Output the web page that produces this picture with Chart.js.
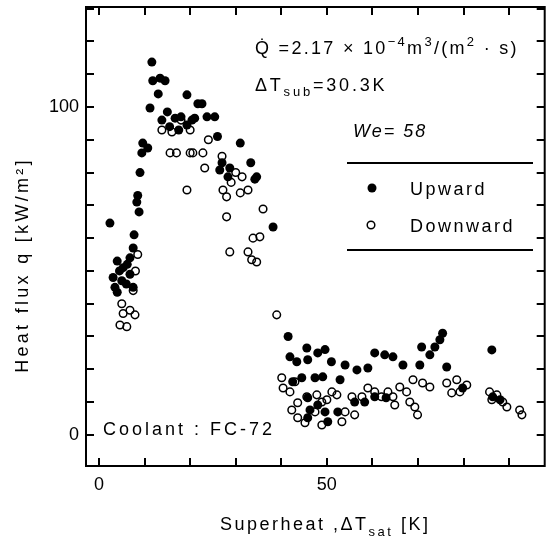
<!DOCTYPE html>
<html>
<head>
<meta charset="utf-8">
<script src="https://cdn.jsdelivr.net/npm/chart.js@4.4.1/dist/chart.umd.min.js"></script>
<style>
html,body{margin:0;padding:0;background:#fff;}
canvas{display:block;}
</style>
</head>
<body>
<canvas id="c" width="550" height="539"></canvas>
<script>
// ---- data ----
const upwardX = [2.4,4.0,6.8,5.3,3.1,5.0,3.5,6.8,7.5,7.5,7.7,8.3,8.8,9.0,4.5,6.0,4.0,6.2,8.5,
  9.4,9.6,10.7,11.2,11.6,11.8,13.4,14.5,13.0,15.0,13.8,16.7,19.3,20.4,21.7,22.6,21.0,23.7,25.4,19.3,26.0,31.0,33.3,27.0,28.7,28.3,34.6,26.5,34.2,38.2,17.5,18.0,15.5,
  41.5,45.6,49.6,41.9,43.4,45.8,48.0,51.0,54.0,56.6,59.0,60.5,62.7,44.5,47.4,49.1,52.9,45.8,48.0,49.6,52.4,56.1,58.3,60.5,45.8,50.2,
  64.5,66.7,70.8,70.4,72.6,73.7,74.8,75.4,76.3,86.2,79.8,86.4,88.0,42.5,46.3,63.0];
const upwardY = [64.6,53,54,51,48,47,45,49,45,57,61,71,68,80,50,46,43.5,52,73,
  86,89,87.5,99.7,113.7,108,108.8,108,104,98.5,96,96.6,103.7,96,101,101,96.6,97,97,94.5,91,89,83,83,81.4,78.7,78.7,80.8,78,63.4,93,97,94,
  30,26.5,26,23.8,22.3,22.9,25,22.3,21.3,19.8,20.4,25,24.4,17.4,17.4,17.7,16.8,11.3,9.1,7,7,10,10,11.6,5.2,4,
  23.8,21.3,26.8,21.3,24.4,26.8,29,31,20.7,25.9,14.3,11.6,10.7,16.2,7.6,11.3];

const downwardX = [7.5,5.0,5.3,6.8,6.1,4.6,7.9,8.0,8.5,
  13.8,16.0,15.6,17.0,20.0,20.0,22.8,20.6,27.0,23.2,31.4,19.3,27.2,31.0,32.7,28.0,36.0,35.3,33.8,28.7,32.7,33.5,34.6,28.0,39.0,18.0,24.0,29.0,30.0,
  40.1,40.4,41.9,43.0,43.6,42.3,45.2,47.4,51.1,52.2,54.0,56.1,55.5,59.0,60.5,62.0,63.4,57.7,48.9,53.3,48.9,43.6,50.0,45.6,47.8,
  66.0,68.9,71.0,72.6,67.5,64.5,64.9,68.2,69.3,69.9,76.3,78.5,80.7,77.4,79.2,85.7,87.3,86.2,88.6,89.5,92.3,92.8];
const downwardY = [44,40,37,38,33,33.5,36.6,50,55,
  93,92.4,86,86,93,86,86,86,85,81.4,78.7,74.7,74.7,73.8,74.7,72.6,68.9,60.4,60,55.8,55.8,53.4,52.7,66.5,36.6,96,90,77,80,
  17.4,14.3,13.1,16.2,9.8,7.6,3.7,7,13.1,12.2,7,6.1,11.6,14.3,13.1,11.6,13.1,11.6,10,4,3,5.2,10.7,11.6,12.2,
  14.6,16.8,15.8,14.6,13.1,11.6,9.1,10,8.5,6.1,15.8,16.8,15.2,12.8,13.1,13.1,12.2,10.7,10,8.5,7.6,6.1];

const xTickValues = [0,10,20,30,40,50,60,70,80,90];
const yTickValues = [0,10,20,30,40,50,60,70,80,90,100,110,120,130];
const xTickLabels = {0:'0',50:'50'};
const yTickLabels = {0:'0',100:'100'};
const seriesNames = ['Upward','Downward'];

const X_MIN = -2.85, X_MAX = 97.8, Y_MIN = -9.5, Y_MAX = 130.5;
const FONT = '"Liberation Sans", Arial, sans-serif';

function drawRich(ctx, parts, x, y, spacing) {
  let cx = x;
  for (const p of parts) {
    ctx.font = (p.italic ? 'italic ' : '') + (p.size || 18) + 'px ' + FONT;
    ctx.letterSpacing = (spacing === undefined ? 2.5 : spacing) + 'px';
    ctx.fillText(p.t, cx, y + (p.dy || 0));
    cx += ctx.measureText(p.t).width;
  }
  return cx;
}

const decor = {
  id: 'decor',
  afterDraw(chart) {
    const ctx = chart.ctx;
    const a = chart.chartArea;
    const xs = chart.scales.x, ys = chart.scales.y;
    ctx.save();
    ctx.strokeStyle = '#000';
    ctx.fillStyle = '#000';
    // frame
    ctx.lineWidth = 2;
    ctx.strokeRect(a.left, a.top, a.right - a.left, a.bottom - a.top);
    // inward ticks on all four sides
    const tl = 8;
    ctx.lineWidth = 2;
    ctx.beginPath();
    for (const v of xTickValues) {
      const px = Math.round(xs.getPixelForValue(v));
      ctx.moveTo(px, a.bottom); ctx.lineTo(px, a.bottom - tl);
      ctx.moveTo(px, a.top); ctx.lineTo(px, a.top + tl);
    }
    for (const v of yTickValues) {
      const py = Math.round(ys.getPixelForValue(v));
      ctx.moveTo(a.left, py); ctx.lineTo(a.left + tl, py);
      ctx.moveTo(a.right, py); ctx.lineTo(a.right - tl, py);
    }
    ctx.stroke();

    ctx.textBaseline = 'alphabetic';
    ctx.textAlign = 'left';
    // annotation text
    drawRich(ctx, [
      {t:'Q\u0307 =2.17 \u00d7 10'}, {t:'\u22124', size:13, dy:-8}, {t:'m'}, {t:'3', size:13, dy:-8},
      {t:'/(m'}, {t:'2', size:13, dy:-8}, {t:' \u00b7 s)'}
    ], 255, 54, 2.3);
    drawRich(ctx, [
      {t:'\u0394T'}, {t:'sub', size:13, dy:5}, {t:'=30.3K'}
    ], 255, 91, 2.8);
    drawRich(ctx, [{t:'We= 58', italic:true}], 353, 137, 2);
    drawRich(ctx, [{t:'Coolant : FC-72'}], 103, 435, 3);

    // legend
    ctx.lineWidth = 2;
    ctx.beginPath();
    ctx.moveTo(347, 163); ctx.lineTo(533, 163);
    ctx.moveTo(347, 250); ctx.lineTo(533, 250);
    ctx.stroke();
    ctx.beginPath(); ctx.arc(372, 188, 4.5, 0, Math.PI * 2); ctx.fill();
    ctx.lineWidth = 1.5;
    ctx.beginPath(); ctx.arc(371, 225, 3.8, 0, Math.PI * 2); ctx.stroke();
    drawRich(ctx, [{t:seriesNames[0]}], 410, 195, 2.5);
    drawRich(ctx, [{t:seriesNames[1]}], 410, 232, 2.5);

    // x axis title
    drawRich(ctx, [
      {t:'Superheat ,\u0394T'}, {t:'sat', size:13, dy:6}, {t:' [K]'}
    ], 220, 530, 2.5);

    // y axis title (rotated)
    ctx.save();
    ctx.translate(28, 265);
    ctx.rotate(-Math.PI / 2);
    ctx.font = '18px ' + FONT;
    ctx.letterSpacing = '3.3px';
    const yt = 'Heat flux q [kW/m\u00b2]';
    const w = ctx.measureText(yt).width;
    ctx.fillText(yt, -w / 2, 0);
    ctx.restore();

    ctx.restore();
  }
};

new Chart(document.getElementById('c'), {
  type: 'scatter',
  data: {
    datasets: [
      {
        label: seriesNames[0],
        data: upwardX.map((x, i) => ({x, y: upwardY[i]})),
        pointStyle: 'circle',
        pointRadius: 4.5,
        pointHoverRadius: 4.5,
        backgroundColor: '#000',
        borderColor: '#000',
        borderWidth: 0
      },
      {
        label: seriesNames[1],
        data: downwardX.map((x, i) => ({x, y: downwardY[i]})),
        pointStyle: 'circle',
        pointRadius: 3.8,
        pointHoverRadius: 3.8,
        backgroundColor: 'rgba(255,255,255,0)',
        borderColor: '#000',
        borderWidth: 1.5
      }
    ]
  },
  options: {
    responsive: false,
    animation: false,
    devicePixelRatio: 1,
    layout: {padding: {top: 7, right: 5, left: 0, bottom: 0}},
    plugins: {legend: {display: false}, tooltip: {enabled: false}},
    scales: {
      x: {
        type: 'linear', min: X_MIN, max: X_MAX,
        grid: {display: false, drawTicks: false},
        border: {display: false},
        afterFit: s => { s.height = 73; s.paddingLeft = 0; s.paddingRight = 0; },
        afterBuildTicks: s => { s.ticks = xTickValues.map(v => ({value: v})); },
        ticks: {
          autoSkip: false, maxRotation: 0, padding: 8, color: '#000',
          font: {family: FONT, size: 18},
          callback: v => xTickLabels[v] || ''
        }
      },
      y: {
        type: 'linear', min: Y_MIN, max: Y_MAX,
        grid: {display: false, drawTicks: false},
        border: {display: false},
        afterFit: s => { s.width = 86; s.paddingTop = 0; s.paddingBottom = 0; },
        afterBuildTicks: s => { s.ticks = yTickValues.map(v => ({value: v})); },
        ticks: {
          autoSkip: false, padding: 7, color: '#000',
          font: {family: FONT, size: 18},
          callback: v => yTickLabels[v] || ''
        }
      }
    }
  },
  plugins: [decor]
});
</script>
</body>
</html>
